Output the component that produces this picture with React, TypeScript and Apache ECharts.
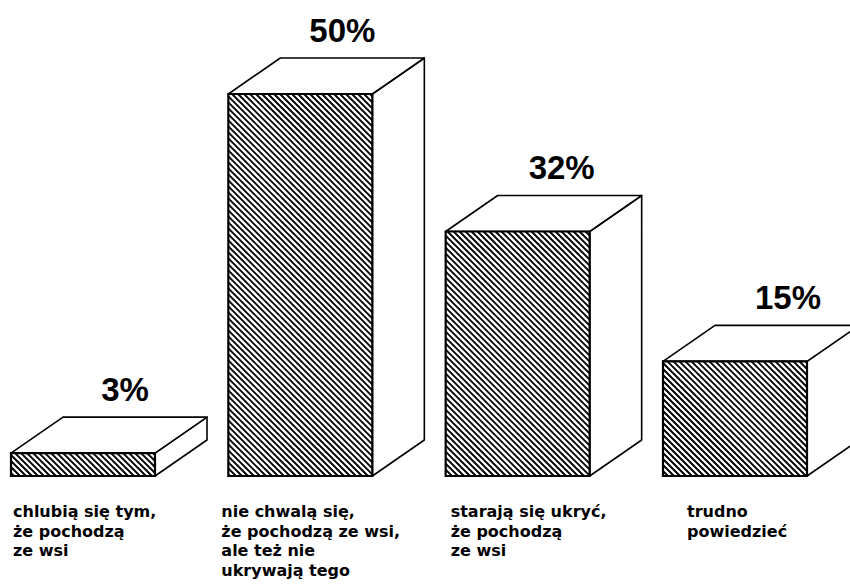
import React, { useEffect, useRef } from "react";
import * as echarts from "echarts";

const categories: string[] = [
  "chlubią się tym,\nże pochodzą\nze wsi",
  "nie chwalą się,\nże pochodzą ze wsi,\nale też nie\nukrywają tego",
  "starają się ukryć,\nże pochodzą\nze wsi",
  "trudno\npowiedzieć",
];
const values: number[] = [3, 50, 32, 15];

// layout-only tweaks (pixel offsets), not data
const catLabelDx = [2, -7, 5, 24];
const valLabelDx = [42, 42, 44, 53];

const BAR_W = 144;
const DX = 52;
const DY = 36;
const HATCH = 6;

export default function App() {
  const ref = useRef<HTMLDivElement>(null);
  useEffect(() => {
    if (!ref.current) return;
    const chart = echarts.init(ref.current, undefined, { renderer: "svg" });
    const renderItem = (params: any, api: any) => {
      const i = api.value(0);
      const v = api.value(1);
      const top = api.coord([i, v]);
      const base = api.coord([i, 0]);
      const cx = top[0];
      const x0 = cx - BAR_W / 2;
      const x1 = cx + BAR_W / 2;
      const y0 = top[1];
      const y1 = base[1];
      const children: any[] = [];
      // side face
      children.push({
        type: "polygon",
        shape: {
          points: [
            [x1, y0],
            [x1 + DX, y0 - DY],
            [x1 + DX, y1 - DY],
            [x1, y1],
          ],
        },
        style: { fill: "#fff", stroke: "#000", lineWidth: 1.6, lineJoin: "round" },
      });
      // top face
      children.push({
        type: "polygon",
        shape: {
          points: [
            [x0, y0],
            [x0 + DX, y0 - DY],
            [x1 + DX, y0 - DY],
            [x1, y0],
          ],
        },
        style: { fill: "#fff", stroke: "#000", lineWidth: 1.6, lineJoin: "round" },
      });
      // front face background
      children.push({
        type: "rect",
        shape: { x: x0, y: y0, width: x1 - x0, height: y1 - y0 },
        style: { fill: "#fff", stroke: null },
      });
      // hatch lines (\ direction): x - y = c
      const cMin = Math.ceil((x0 - y1) / HATCH) * HATCH;
      const cMax = x1 - y0;
      for (let c = cMin; c <= cMax; c += HATCH) {
        const ya = Math.max(y0, x0 - c);
        const yb = Math.min(y1, x1 - c);
        if (yb - ya < 0.5) continue;
        children.push({
          type: "line",
          shape: { x1: ya + c, y1: ya, x2: yb + c, y2: yb },
          style: { stroke: "#000", lineWidth: 1.9 },
        });
      }
      // front outline
      children.push({
        type: "rect",
        shape: { x: x0, y: y0, width: x1 - x0, height: y1 - y0 },
        style: { fill: null, stroke: "#000", lineWidth: 2.2 },
      });
      // value label
      children.push({
        type: "text",
        style: {
          text: v + "%",
          x: cx + valLabelDx[i],
          y: y0 - 64,
          align: "center",
          verticalAlign: "middle",
          font: "bold 33px 'Liberation Sans', Arial, sans-serif",
          fill: "#000",
        },
      });
      // category label
      children.push({
        type: "text",
        style: {
          text: categories[i],
          x: x0 + catLabelDx[i],
          y: y1 + 26,
          align: "left",
          verticalAlign: "top",
          lineHeight: 19.5,
          font: "bold 16px 'DejaVu Sans', sans-serif",
          fill: "#000",
        },
      });
      return { type: "group", children };
    };
    chart.setOption({
      animation: false,
      backgroundColor: "#fff",
      grid: { left: 83, right: 115, top: 94, bottom: 112 },
      xAxis: {
        type: "category",
        data: categories,
        boundaryGap: false,
        show: false,
      },
      yAxis: { type: "value", min: 0, max: 50, show: false },
      series: [
        {
          type: "custom",
          renderItem,
          clip: false,
          encode: { x: 0, y: 1 },
          data: values.map((v, i) => [i, v]),
        },
      ],
    });
    return () => chart.dispose();
  }, []);
  return (
    <div
      ref={ref}
      style={{ position: "fixed", left: 0, top: 0, width: 850, height: 588, background: "#fff" }}
    />
  );
}
